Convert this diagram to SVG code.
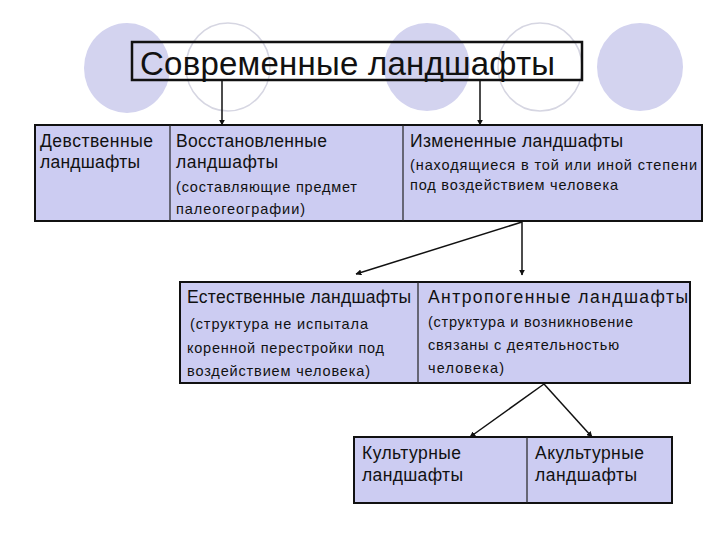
<svg xmlns="http://www.w3.org/2000/svg" width="720" height="540" viewBox="0 0 720 540">
<style>
.bgf{fill:#d3d3ef;stroke:none}
.bgo{fill:none;stroke:#d6d6e2;stroke-width:1.5}
.cell{fill:#ccccf2;stroke:#111;stroke-width:2}
.div{stroke:#222;stroke-width:1.2}
.t{font-family:"Liberation Sans",Arial,sans-serif;fill:#111}
.big{font-size:17.5px}
.sm{font-size:14.5px}
.title{font-size:33px}
.con{stroke:#111;stroke-width:1.5;fill:none;marker-end:url(#ah)}
</style>
<defs>
<marker id="ah" viewBox="0 0 10 10" refX="9" refY="5" markerWidth="6" markerHeight="6" orient="auto" markerUnits="userSpaceOnUse">
<path d="M0,0 L10,5 L0,10 z" fill="#111"/>
</marker>
</defs>
<rect width="720" height="540" fill="#fff"/>
<g id="background">
<ellipse class="bgf" cx="127" cy="68" rx="43" ry="45"/>
<ellipse class="bgo" cx="228" cy="67" rx="42" ry="44"/>
<ellipse class="bgf" cx="427" cy="67" rx="43" ry="44"/>
<ellipse class="bgo" cx="540" cy="67" rx="42" ry="44"/>
<ellipse class="bgf" cx="640" cy="67" rx="43" ry="44"/>
</g>
<g id="title">
<rect x="132" y="42" width="450" height="38" fill="none" stroke="#111" stroke-width="2.5"/>
<text class="t title" x="140" y="75" textLength="415">Современные ландшафты</text>
</g>
<g id="row1">
<rect class="cell" x="35" y="125" width="667" height="96"/>
<line class="div" x1="170" y1="125" x2="170" y2="221"/>
<line class="div" x1="403" y1="125" x2="403" y2="221"/>
</g>
<g id="virgin">
<text class="t big" x="40" y="147" textLength="113">Девственные</text>
<text class="t big" x="40" y="168" textLength="100">ландшафты</text>
</g>
<g id="restored">
<text class="t big" x="176" y="147" textLength="151">Восстановленные</text>
<text class="t big" x="176" y="168" textLength="102">ландшафты</text>
<text class="t sm" x="176" y="192" textLength="181">(составляющие предмет</text>
<text class="t sm" x="176" y="214" textLength="129">палеогеографии)</text>
</g>
<g id="changed">
<text class="t big" x="410" y="147" textLength="213">Измененные ландшафты</text>
<text class="t sm" x="410" y="170" textLength="287">(находящиеся в той или иной степени</text>
<text class="t sm" x="410" y="190" textLength="208">под воздействием человека</text>
</g>
<g id="row2">
<rect class="cell" x="180" y="282" width="510" height="101"/>
<line class="div" x1="418" y1="282" x2="418" y2="383"/>
</g>
<g id="natural">
<text class="t big" x="187" y="303" textLength="224">Естественные ландшафты</text>
<text class="t sm" x="190" y="329" textLength="178">(структура не испытала</text>
<text class="t sm" x="187" y="353" textLength="197">коренной перестройки под</text>
<text class="t sm" x="187" y="376" textLength="183">воздействием человека)</text>
</g>
<g id="anthropogenic">
<text class="t big" x="428" y="303" textLength="260">Антропогенные ландшафты</text>
<text class="t sm" x="428" y="327" textLength="205">(структура и возникновение</text>
<text class="t sm" x="428" y="350" textLength="191">связаны с деятельностью</text>
<text class="t sm" x="428" y="373" textLength="76">человека)</text>
</g>
<g id="row3">
<rect class="cell" x="354" y="437" width="318" height="66"/>
<line class="div" x1="527" y1="437" x2="527" y2="503"/>
</g>
<g id="cultural">
<text class="t big" x="362" y="459" textLength="99">Культурные</text>
<text class="t big" x="362" y="481" textLength="101">ландшафты</text>
</g>
<g id="acultural">
<text class="t big" x="535" y="459" textLength="109">Акультурные</text>
<text class="t big" x="535" y="481" textLength="102">ландшафты</text>
</g>
<g id="connectors">
<line class="con" x1="222" y1="81" x2="222" y2="125"/>
<line class="con" x1="480" y1="81" x2="480" y2="125"/>
<line class="con" x1="522" y1="222" x2="356" y2="274"/>
<line class="con" x1="522" y1="222" x2="522" y2="275"/>
<line class="con" x1="544" y1="384" x2="470" y2="437"/>
<line class="con" x1="544" y1="384" x2="592" y2="437"/>
</g>
</svg>
